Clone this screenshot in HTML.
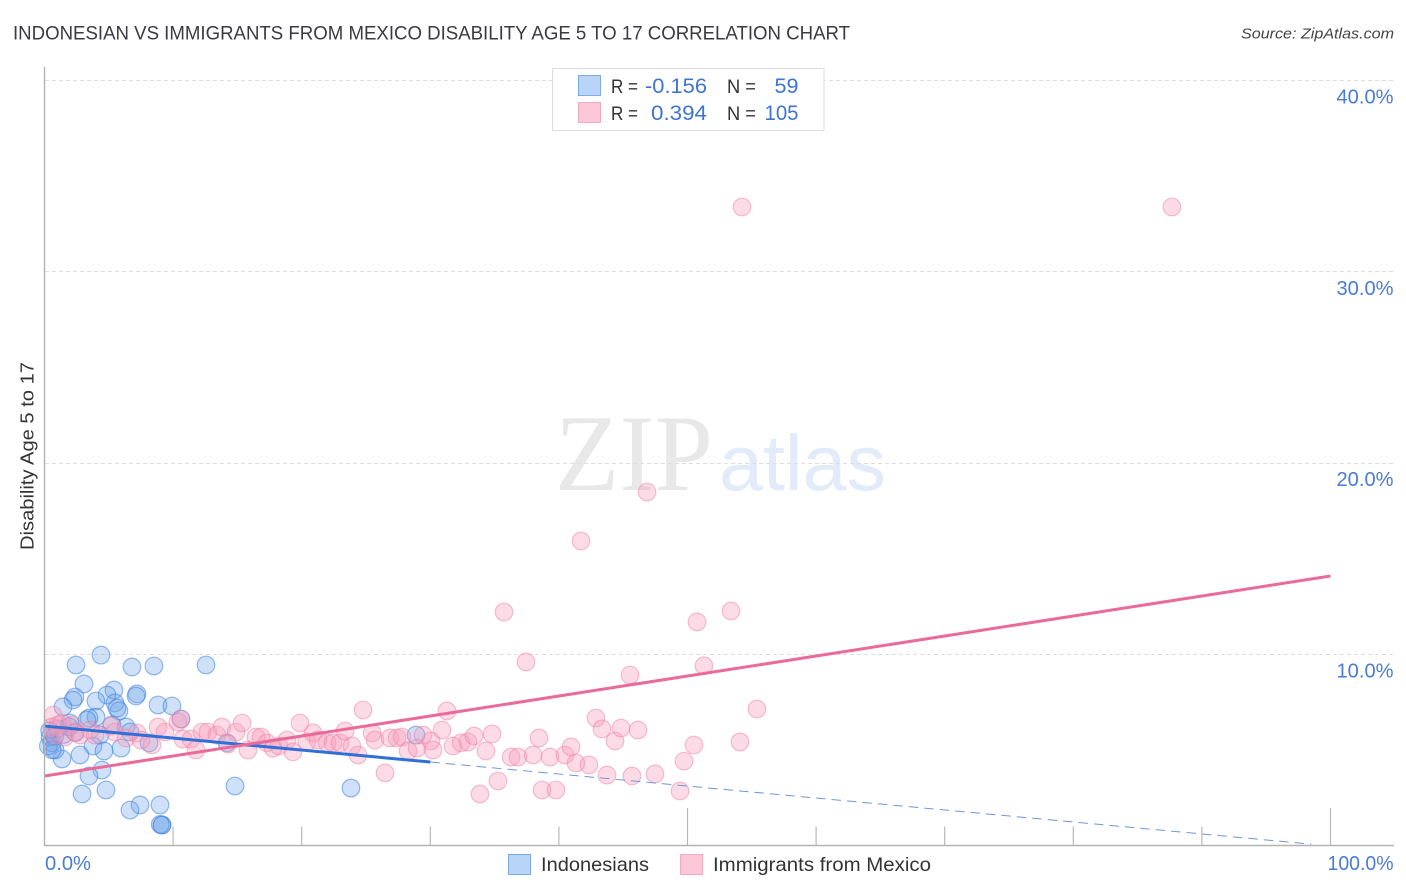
<!DOCTYPE html>
<html lang="en">
<head>
<meta charset="utf-8">
<title>Indonesian vs Immigrants from Mexico Disability Age 5 to 17 Correlation Chart</title>
<style>
  html, body { margin: 0; padding: 0; background: #fff; }
  body { width: 1406px; height: 892px; overflow: hidden; }
  svg { display: block; font-family: "Liberation Sans", sans-serif; }
</style>
</head>
<body>
<svg id="chart" width="1406" height="892" viewBox="0 0 1406 892" xmlns="http://www.w3.org/2000/svg">
  <rect x="0" y="0" width="1406" height="892" fill="#ffffff"/>
  <text x="13" y="39.5" font-size="19" fill="#3a3a40" textLength="837" lengthAdjust="spacingAndGlyphs">INDONESIAN VS IMMIGRANTS FROM MEXICO DISABILITY AGE 5 TO 17 CORRELATION CHART</text>
  <text x="1394" y="38.5" font-size="15" font-style="italic" fill="#444" text-anchor="end" textLength="153" lengthAdjust="spacingAndGlyphs">Source: ZipAtlas.com</text>

  <text x="555" y="490" font-family="'Liberation Serif', serif" font-size="109" fill="#e8e8e8" textLength="158" lengthAdjust="spacingAndGlyphs">ZIP</text>
  <text x="719" y="490" font-size="79" fill="#e2ebf9" textLength="167" lengthAdjust="spacingAndGlyphs">atlas</text>

  <g id="grid"></g>
  <g id="blue-points"></g>
  <g id="pink-points"></g>
  <g id="trends"></g>
  <g id="axes"></g>

  <text transform="translate(33.5,550) rotate(-90)" x="0" y="0" font-size="18" fill="#333" textLength="188" lengthAdjust="spacingAndGlyphs">Disability Age 5 to 17</text>

  <g>
    <rect x="552.5" y="68.5" width="271.5" height="62" fill="#ffffff" stroke="#dddddd" stroke-width="1"/>
    <rect x="578.5" y="75.5" width="22" height="20" fill="#b8d4f7" stroke="#7eaae4" stroke-width="1"/>
    <rect x="578.5" y="102.5" width="22" height="20" fill="#fcc8d8" stroke="#f3a9c0" stroke-width="1"/>
    <text x="611" y="93" font-size="19.5" fill="#333" textLength="27" lengthAdjust="spacingAndGlyphs">R =</text>
    <text x="707" y="93" font-size="21" fill="#3f74d4" text-anchor="end" textLength="62" lengthAdjust="spacingAndGlyphs">-0.156</text>
    <text x="727" y="93" font-size="19.5" fill="#333" textLength="29" lengthAdjust="spacingAndGlyphs">N =</text>
    <text x="798.5" y="93" font-size="21" fill="#3f74d4" text-anchor="end" textLength="24" lengthAdjust="spacingAndGlyphs">59</text>
    <text x="611" y="120" font-size="19.5" fill="#333" textLength="27" lengthAdjust="spacingAndGlyphs">R =</text>
    <text x="707" y="120" font-size="21" fill="#3f74d4" text-anchor="end" textLength="56" lengthAdjust="spacingAndGlyphs">0.394</text>
    <text x="727" y="120" font-size="19.5" fill="#333" textLength="29" lengthAdjust="spacingAndGlyphs">N =</text>
    <text x="798.5" y="120" font-size="21" fill="#3f74d4" text-anchor="end" textLength="34" lengthAdjust="spacingAndGlyphs">105</text>
  </g>

  <g>
    <rect x="508.5" y="854.5" width="22" height="20" fill="#b8d4f7" stroke="#7eaae4" stroke-width="1"/>
    <text x="541" y="871" font-size="19.5" fill="#333" textLength="108" lengthAdjust="spacingAndGlyphs">Indonesians</text>
    <rect x="680.5" y="854.5" width="22" height="20" fill="#fcc8d8" stroke="#f3a9c0" stroke-width="1"/>
    <text x="713" y="871" font-size="19.5" fill="#333" textLength="218" lengthAdjust="spacingAndGlyphs">Immigrants from Mexico</text>
  </g>
</svg>
<script>
const blueX = [4.39,2.45,6.80,8.51,12.56,3.07,5.40,4.86,2.37,2.22,1.44,7.19,7.12,4.00,5.48,5.79,5.64,8.83,9.91,10.61,4.00,3.46,3.30,5.25,1.98,6.34,6.65,8.13,14.19,4.32,3.77,5.95,4.63,2.76,1.36,0.82,0.58,0.43,4.47,3.46,2.92,4.78,7.43,6.65,8.98,9.14,9.14,9.00,14.81,23.83,28.89,0.40,0.80,1.00,1.50,1.90,2.40,0.30,0.60];
const blueY = [9.95,9.43,9.33,9.38,9.43,8.44,8.12,7.86,7.76,7.60,7.24,7.92,7.81,7.55,7.45,7.03,7.18,7.34,7.29,6.61,6.71,6.66,6.56,6.30,6.40,6.19,5.93,5.36,5.36,5.77,5.20,5.09,4.94,4.73,4.52,4.99,5.36,5.67,3.94,3.63,2.69,2.90,2.12,1.85,2.12,1.07,1.07,1.10,3.11,3.00,5.77,6.00,5.70,6.10,5.80,6.20,5.90,5.20,5.00];
const pinkX = [0.66,0.58,1.05,1.36,2.14,0.82,1.59,2.37,2.76,3.54,3.93,5.17,5.48,6.34,7.19,7.50,8.36,8.83,9.37,10.38,10.61,10.77,11.39,11.78,12.25,12.71,13.41,13.80,14.89,15.36,14.27,15.82,16.45,16.84,17.30,17.77,18.23,18.86,19.32,19.87,20.41,20.88,21.27,21.97,22.43,22.98,23.37,23.91,24.38,24.77,25.47,25.70,26.48,26.87,27.41,27.80,28.27,28.97,29.43,30.05,30.21,30.91,31.30,31.76,32.39,32.93,33.40,34.80,34.33,33.86,35.26,36.28,36.82,37.99,38.45,39.31,38.69,39.77,40.47,40.94,41.33,42.34,42.88,43.35,43.74,44.36,44.83,46.15,45.68,47.47,49.42,49.73,50.50,54.08,55.40,45.53,51.28,37.44,50.74,53.38,35.73,41.72,46.85,54.24,87.67];
const pinkY = [6.82,6.19,6.30,6.40,6.30,5.77,5.67,5.93,5.77,6.03,5.77,6.24,5.93,5.62,5.88,5.51,5.25,6.19,5.93,6.45,6.61,5.56,5.56,4.99,5.93,5.93,5.77,6.19,5.93,6.40,5.30,4.99,5.67,5.67,5.36,5.09,5.20,5.51,4.89,6.40,5.41,5.88,5.51,5.36,5.36,5.36,5.98,5.20,4.73,7.08,5.88,5.51,3.79,5.62,5.62,5.67,4.94,5.09,5.77,5.46,4.99,6.03,7.03,5.20,5.36,5.41,5.72,5.83,4.94,2.69,3.37,4.62,4.62,4.73,5.62,4.62,2.90,2.90,4.73,5.15,4.31,4.21,6.66,6.09,3.68,5.46,6.14,6.03,3.63,3.74,2.85,4.41,5.25,5.41,7.13,8.91,9.39,9.59,11.68,12.25,12.20,15.91,18.47,33.36,33.36];
const xTickValues = [10,20,30,40,50,60,70,80,90,100];
const xMajorTicks = [50,100];
const yTickValues = [10,20,30,40];
const yTickLabels = ["10.0%","20.0%","30.0%","40.0%"];
const xEndLabels = ["0.0%","100.0%"];
const pinkTrendX = [0,100];
const pinkTrendY = [3.63,14.08];
const blueSolidX = [0,30];
const blueSolidY = [6.24,4.36];
const blueDashX = [30,98.5];
const blueDashY = [4.36,0.07];

const SVGNS = 'http://www.w3.org/2000/svg';
function sx(v) { return 44.5 + v * 12.86; }
function sy(v) { return 845.5 - v * 19.14; }
function make(tag, attrs, parent) {
  const el = document.createElementNS(SVGNS, tag);
  Object.keys(attrs).forEach(function (k) { el.setAttribute(k, attrs[k]); });
  parent.appendChild(el);
  return el;
}

const gridG = document.getElementById('grid');
yTickValues.forEach(function (v) {
  const gy = Math.round(sy(v)) + 0.5;
  const el = make('line', {x1: 45, x2: 1394, y1: gy, y2: gy, stroke: '#dedede', 'stroke-width': 1, 'stroke-dasharray': '4 3'}, gridG);
  
  
});

const blueG = document.getElementById('blue-points');
blueX.forEach(function (x, i) {
  const el = make('circle', {cx: sx(x), cy: sy(blueY[i]), r: 8.8, fill: 'rgba(110,165,235,0.33)', stroke: 'rgba(60,130,222,0.55)', 'stroke-width': 1.2}, blueG);
  
  
});

const pinkG = document.getElementById('pink-points');
pinkX.forEach(function (x, i) {
  const el = make('circle', {cx: sx(x), cy: sy(pinkY[i]), r: 8.8, fill: 'rgba(248,155,185,0.36)', stroke: 'rgba(238,130,168,0.5)', 'stroke-width': 1.2}, pinkG);
  
  
});

const trendG = document.getElementById('trends');
const blueDash = make('line', {x1: sx(blueDashX[0]), y1: sy(blueDashY[0]), x2: sx(blueDashX[1]), y2: sy(blueDashY[1]), stroke: '#6d97d8', 'stroke-width': 1, 'stroke-dasharray': '9.5 6'}, trendG);


const blueSolid = make('line', {x1: sx(blueSolidX[0]), y1: sy(blueSolidY[0]), x2: sx(blueSolidX[1]), y2: sy(blueSolidY[1]), stroke: '#2e6fd8', 'stroke-width': 3}, trendG);


const pinkTrend = make('line', {x1: sx(pinkTrendX[0]), y1: sy(pinkTrendY[0]), x2: sx(pinkTrendX[1]), y2: sy(pinkTrendY[1]), stroke: '#ea6a9a', 'stroke-width': 3}, trendG);



const axesG = document.getElementById('axes');
const yAxis = make('line', {x1: 44.5, x2: 44.5, y1: 67, y2: 846, stroke: '#b2b2b2', 'stroke-width': 1.4}, axesG);


const xAxis = make('line', {x1: 44, x2: 1394, y1: 845.5, y2: 845.5, stroke: '#b2b2b2', 'stroke-width': 1.4}, axesG);



xTickValues.forEach(function (v) {
  const top = xMajorTicks.indexOf(v) >= 0 ? 808 : 826.5;
  const el = make('line', {x1: sx(v), x2: sx(v), y1: top, y2: 845.5, stroke: '#b8b8b8', 'stroke-width': 1.2}, axesG);
  
  
});

yTickValues.forEach(function (v, i) {
  const el = make('text', {x: 1393.5, y: sy(v) + 23.5, 'font-size': 20, fill: '#4a7cd6', 'text-anchor': 'end', textLength: 57, lengthAdjust: 'spacingAndGlyphs'}, axesG);
  el.textContent = yTickLabels[i];
  
  
});

const xLabelStart = make('text', {x: 45, y: 870, 'font-size': 20, fill: '#4a7cd6', textLength: 46, lengthAdjust: 'spacingAndGlyphs'}, axesG);
xLabelStart.textContent = xEndLabels[0];


const xLabelEnd = make('text', {x: 1393.5, y: 870, 'font-size': 20, fill: '#4a7cd6', 'text-anchor': 'end', textLength: 66, lengthAdjust: 'spacingAndGlyphs'}, axesG);
xLabelEnd.textContent = xEndLabels[1];


</script>
</body>
</html>
